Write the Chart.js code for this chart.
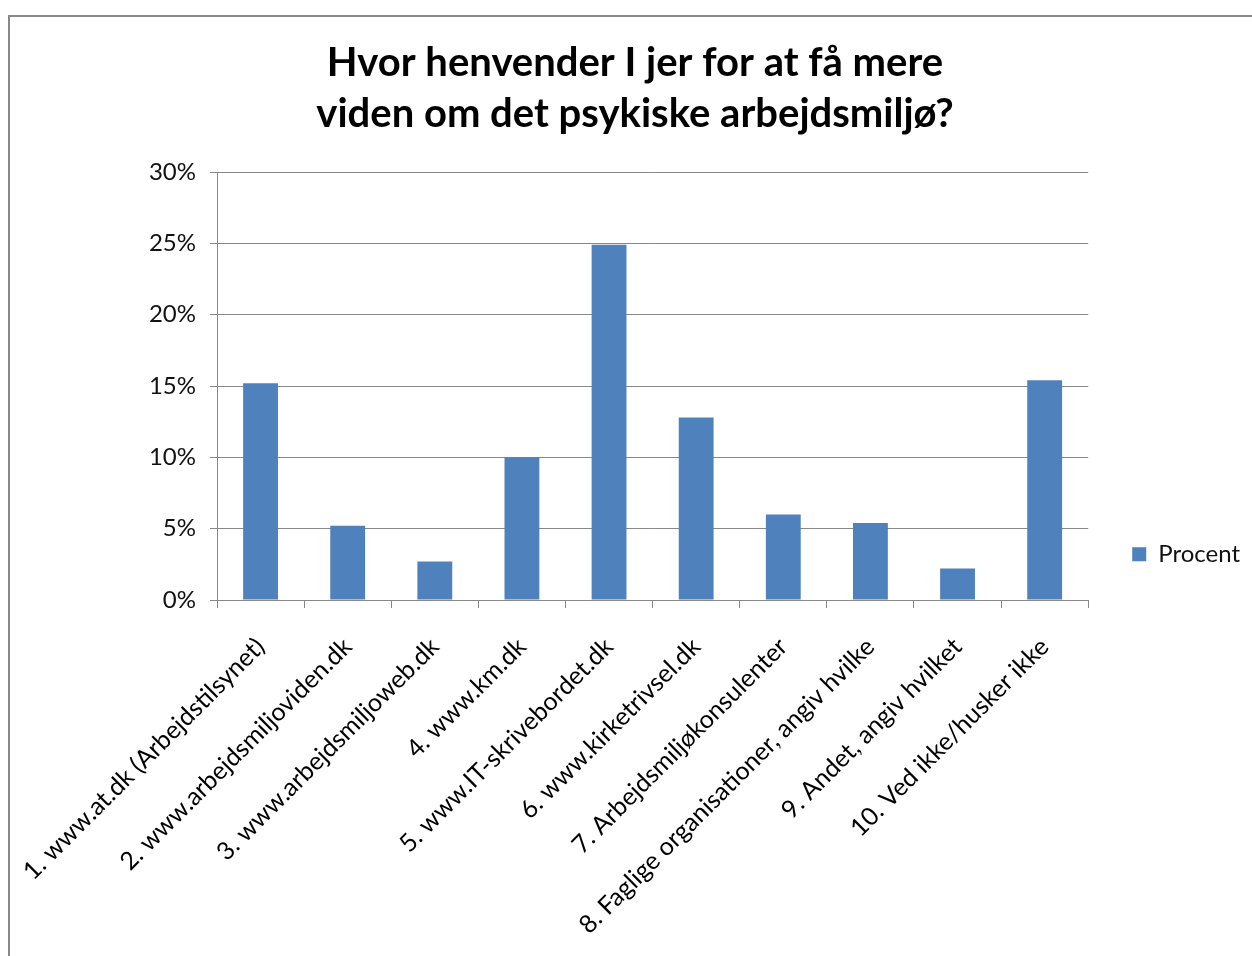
<!DOCTYPE html>
<html>
<head>
<meta charset="utf-8">
<script src="https://cdn.jsdelivr.net/npm/chart.js@4.4.1/dist/chart.umd.min.js"></script>
<style>
  html, body { margin: 0; padding: 0; background: #fff; }
  #wrap { width: 1252px; height: 956px; }
</style>
</head>
<body>
<div id="wrap"><canvas id="canvas" width="1252" height="956"></canvas></div>
<script>
// data
const categories = [
  '1. www.at.dk (Arbejdstilsynet)',
  '2. www.arbejdsmiljoviden.dk',
  '3. www.arbejdsmiljoweb.dk',
  '4. www.km.dk',
  '5. www.IT-skrivebordet.dk',
  '6. www.kirketrivsel.dk',
  '7. Arbejdsmiljøkonsulenter',
  '8. Faglige organisationer, angiv hvilke',
  '9. Andet, angiv hvilket',
  '10. Ved ikke/husker ikke'
];
const procent = [15.2, 5.2, 2.7, 10.0, 24.9, 12.8, 6.0, 5.4, 2.2, 15.4];
const yTicks = [0, 5, 10, 15, 20, 25, 30];

const FONT = 'Lato, "Open Sans", sans-serif';
const gridGray = '#888';

// outer frame like the Excel chart border
const framePlugin = {
  id: 'frame',
  beforeDraw(chart) {
    const c = chart.ctx;
    c.save();
    c.fillStyle = '#fff';
    c.fillRect(0, 0, chart.width, chart.height);
    c.strokeStyle = '#888';
    c.lineWidth = 2;
    c.strokeRect(9, 16, chart.width + 20, chart.height + 20);
    c.restore();
  }
};

const padL = 20;

const ctx = document.getElementById('canvas').getContext('2d');
new Chart(ctx, {
  type: 'bar',
  data: {
    labels: categories,
    datasets: [{
      label: 'Procent',
      data: procent,
      backgroundColor: '#4F81BD',
      borderWidth: 0,
      barPercentage: 0.4,
      categoryPercentage: 1.0
    }]
  },
  options: {
    responsive: false,
    animation: false,
    layout: { padding: { top: 38, left: padL, right: 2, bottom: 0 } },
    plugins: {
      title: {
        display: true,
        text: ['Hvor henvender I jer for at få mere', 'viden om det psykiske arbejdsmiljø?'],
        color: '#000',
        font: { family: FONT, size: 40, weight: 'bold', lineHeight: 1.275 },
        padding: { top: 0, bottom: 32 }
      },
      legend: {
        position: 'right',
        title: { display: true, text: '', padding: { top: 100, bottom: 0 } },
        labels: {
          color: '#111',
          font: { family: FONT, size: 24 },
          boxWidth: 14,
          boxHeight: 14,
          padding: 44
        }
      },
      tooltip: { enabled: false }
    },
    scales: {
      x: {
        grid: { drawOnChartArea: false, drawTicks: true, tickLength: 8, color: gridGray, offset: true },
        border: { color: gridGray, width: 1 },
        ticks: {
          color: '#000',
          font: { family: FONT, size: 25 },
          maxRotation: 45,
          minRotation: 45,
          autoSkip: false,
          padding: 24
        },
        afterFit(scale) {
          scale.height = 356;
          scale.paddingLeft = 0;
          scale.paddingRight = 0;
        }
      },
      y: {
        min: 0,
        max: 30,
        afterBuildTicks(scale) { scale.ticks = yTicks.map(v => ({ value: v })); },
        grid: { color: gridGray, tickLength: 7, drawTicks: true },
        border: { color: gridGray, width: 1 },
        ticks: {
          color: '#111',
          font: { family: FONT, size: 24 },
          padding: 14,
          callback: v => v + '%'
        },
        afterFit(scale) { scale.width = 217 - padL; }
      }
    }
  },
  plugins: [framePlugin]
});
</script>
</body>
</html>
